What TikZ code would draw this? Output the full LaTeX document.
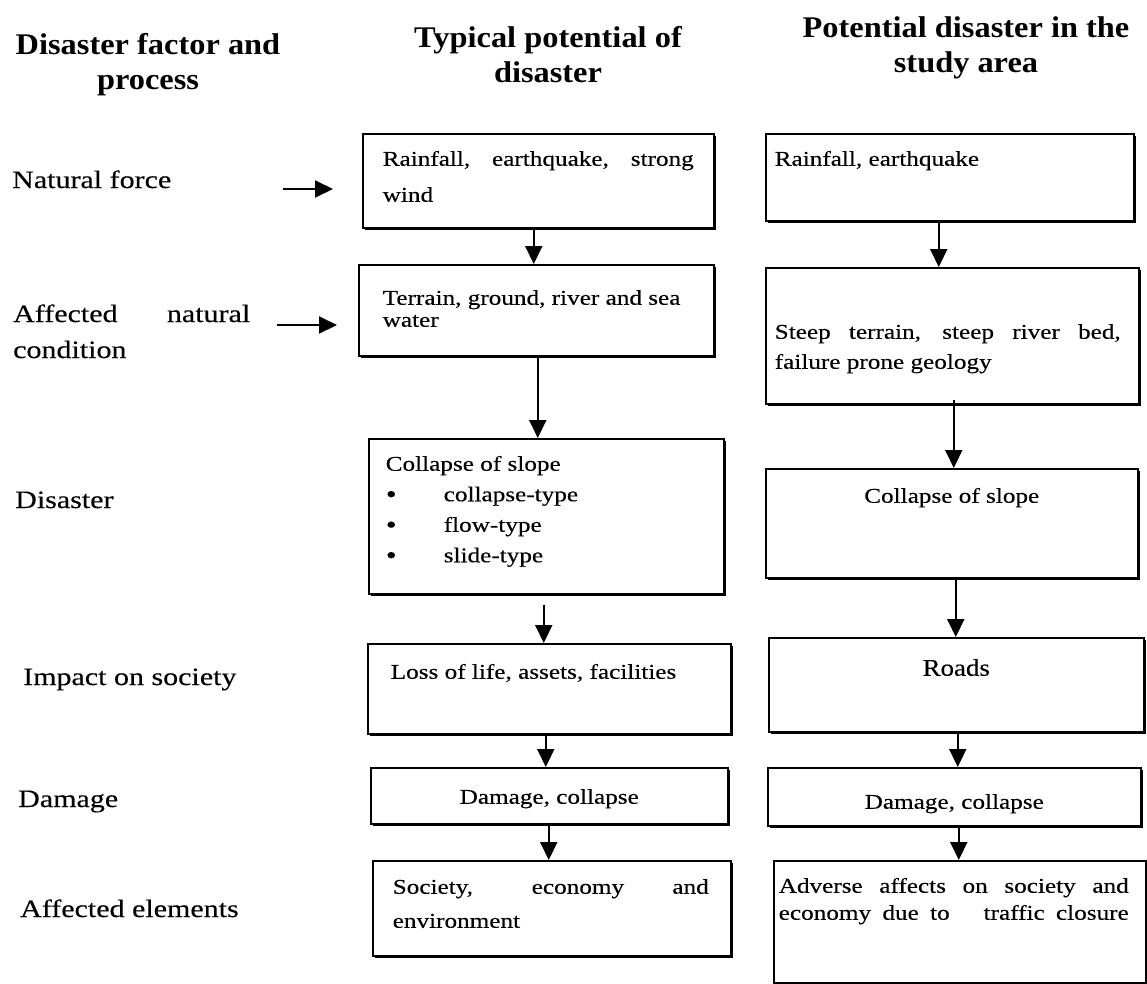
\documentclass[tikz,border=0pt]{standalone}
\usepackage{fontspec}
\setmainfont{Liberation Serif}
\newfontfamily\hdrfont[FakeStretch=1.08]{Liberation Serif}
\newfontfamily\lblfont[FakeStretch=1.2,FakeBold=0.3]{Liberation Serif}
\newfontfamily\boxfont[FakeStretch=1.2,FakeBold=0.3]{Liberation Serif}
\newfontfamily\roadfont[FakeStretch=1.12,FakeBold=0.3]{Liberation Serif}
\usetikzlibrary{arrows.meta,shadows}
% #1 height, #2 left pad, #3 text width, #4 right pad, #5 baselineskip, #6 first baseline, #7 text
\newcommand{\bxt}[7]{\hspace*{#2}\parbox[c][#1][t]{#3}{\boxfont\fontsize{21}{#5}\selectfont\rule{0pt}{#6}#7}\hspace*{#4}}
\newcommand{\bigbul}{\makebox[58pt][l]{\raisebox{-1.5pt}{\fontsize{26}{26}\selectfont\textbullet}}}
\newcommand{\vconn}[4][]{\path ([xshift=#4pt]#2.south) coordinate (#2#3s);
  \draw[arr,#1] (#2#3s) -- (#2#3s |- #3.north);}
\tikzset{
  boxst/.style={draw, line width=1.5pt, fill=white, anchor=north west, inner sep=0pt,
    drop shadow={shadow xshift=2.5pt, shadow yshift=-2.5pt, fill=black, opacity=1}},
  lbl/.style={anchor=base west, inner sep=0pt, font=\lblfont\fontsize{25}{36}\selectfont},
  hdr/.style={anchor=base, inner sep=0pt, font=\hdrfont\bfseries\fontsize{30}{35}\selectfont},
  arr/.style={line width=2pt, -{Triangle[width=17pt,length=18pt]}},
}
\begin{document}
\begin{tikzpicture}[x=1pt,y=-1pt]
\useasboundingbox (0,0) rectangle (1147,983);

% headers
\node[hdr] (H1) at (148,54) {\parbox[t]{320pt}{\centering Disaster factor and\\process}};
\node[hdr] (H2) at (548,47) {\parbox[t]{340pt}{\centering Typical potential of\\disaster}};
\node[hdr] (H3) at (966,37) {\parbox[t]{380pt}{\centering Potential disaster in the\\study area}};

% left labels
\node[lbl] (L1) at (12,188) {Natural force};
\node[lbl] (L2) at (13,322) {\parbox[t]{237pt}{\makebox[\linewidth][s]{Affected natural}\\condition}};
\node[lbl] (L3) at (15,508) {Disaster};
\node[lbl] (L4) at (23,685) {Impact on society};
\node[lbl] (L5) at (18,807) {Damage};
\node[lbl] (L6) at (20,917) {Affected elements};

% typical column
\node[boxst] (A1) at (362,133) {\bxt{94pt}{20pt}{311pt}{20pt}{36pt}{32pt}{\makebox[\linewidth][s]{Rainfall, earthquake, strong}\\wind}};
\node[boxst] (A2) at (358,264) {\bxt{91pt}{24pt}{309pt}{22pt}{22pt}{40pt}{Terrain, ground, river and sea\\water}};
\node[boxst] (A3) at (368,438) {\bxt{155pt}{17pt}{321pt}{17pt}{30.5pt}{32pt}{Collapse of slope\\
  \bigbul collapse-type\\
  \bigbul flow-type\\
  \bigbul slide-type}};
\node[boxst] (A4) at (367,643) {\bxt{90pt}{23pt}{317pt}{23pt}{30pt}{35pt}{Loss of life, assets, facilities}};
\node[boxst] (A5) at (370,767) {\bxt{56pt}{10pt}{337pt}{10pt}{20pt}{36pt}{\centering Damage, collapse}};
\node[boxst] (A6) at (372,860) {\bxt{95pt}{20pt}{316pt}{22pt}{34pt}{33pt}{\makebox[\linewidth][s]{Society, economy and}\\environment}};

% study area column
\node[boxst] (B1) at (765,133) {\bxt{87pt}{9pt}{351pt}{8pt}{30pt}{32pt}{Rainfall, earthquake}};
\node[boxst] (B2) at (765,267) {\bxt{136pt}{9pt}{346pt}{18pt}{30pt}{71pt}{\makebox[\linewidth][s]{Steep terrain, steep river bed,}\\failure prone geology}};
\node[boxst] (B3) at (765,468) {\bxt{109pt}{10pt}{352pt}{10pt}{20pt}{34pt}{\centering Collapse of slope}};
\node[boxst] (B4) at (768,637) {\bxt{94pt}{10pt}{355pt}{10pt}{27pt}{38pt}{\centering\roadfont\fontsize{24}{27}\selectfont Roads}};
\node[boxst] (B5) at (767,767) {\bxt{58pt}{10pt}{353pt}{10pt}{20pt}{41pt}{\centering Damage, collapse}};
\node[boxst] (B6) at (773,860) {\bxt{122pt}{5pt}{350pt}{17pt}{27pt}{32pt}{\makebox[\linewidth][s]{Adverse affects on society and}\\\makebox[\linewidth][s]{economy due to\ \ \ traffic closure}}};

% side arrows
\coordinate (nfs) at (283,189);
\coordinate (ancs) at (277,325);
\draw[arr, shorten >=29pt] (nfs) -- (nfs -| A1.west);
\draw[arr, shorten >=21pt] (ancs) -- (ancs -| A2.west);

% vertical arrows
\vconn{A1}{A2}{-4.5}
\vconn{A2}{A3}{1.5}
\vconn[shorten <=10pt]{A3}{A4}{-2.5}
\vconn{A4}{A5}{-3.5}
\vconn{A5}{A6}{-0.5}
\vconn{B1}{B2}{-11}
\vconn[shorten <=-5pt]{B2}{B3}{1.5}
\vconn{B3}{B4}{4}
\vconn{B4}{B5}{1.5}
\vconn{B5}{B6}{4.5}
\end{tikzpicture}
\end{document}
